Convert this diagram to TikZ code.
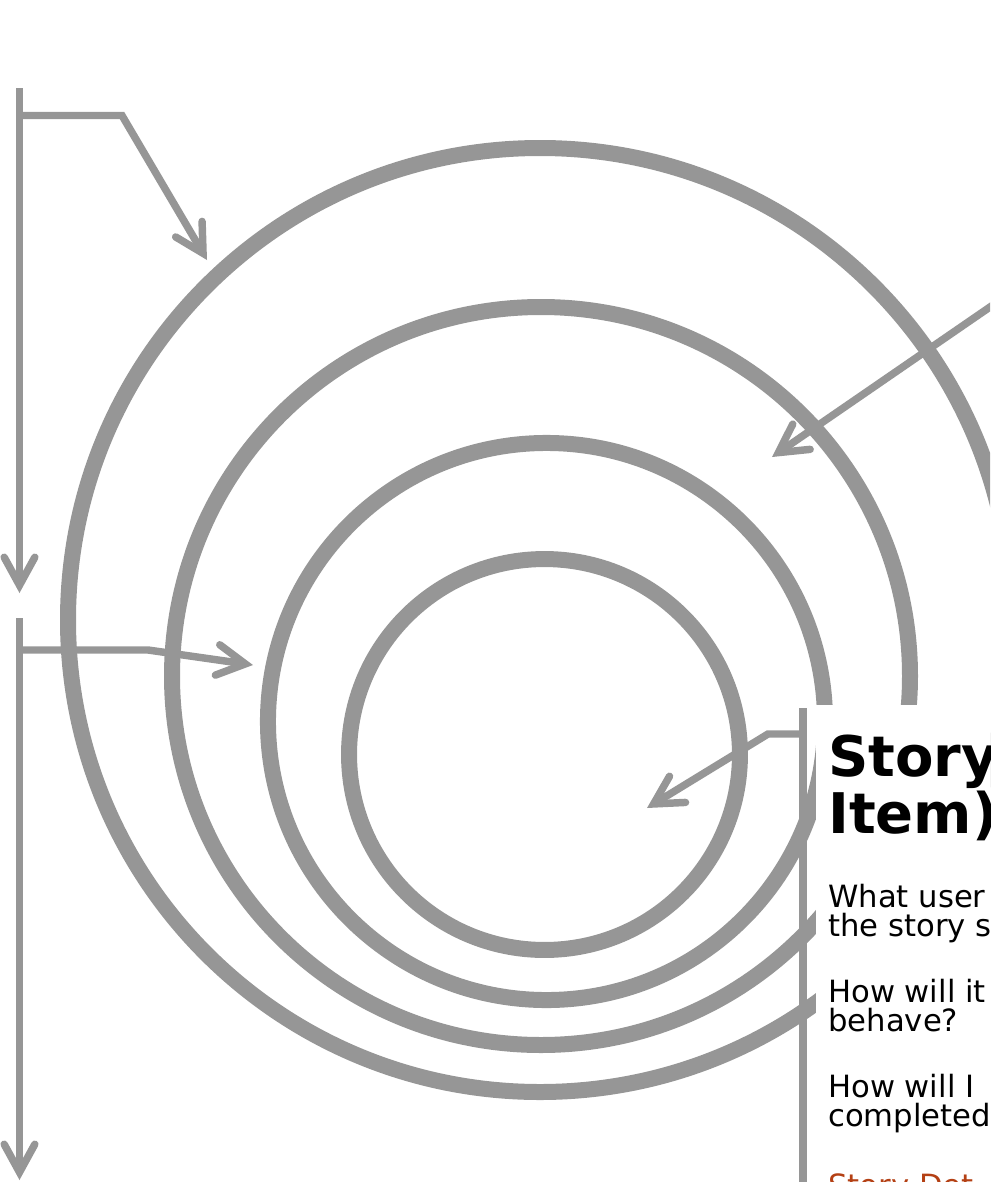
\documentclass[tikz,border=0pt]{standalone}
\usepackage{fontspec}
\setmainfont{DejaVu Sans}
\usetikzlibrary{arrows.meta}
\definecolor{ringgray}{RGB}{150,150,150}
\definecolor{rust}{RGB}{180,64,20}
\begin{document}
\begin{tikzpicture}[x=0.75pt,y=-0.75pt,
  ringline/.style={draw=ringgray,line width=12pt},
  conn/.style={draw=ringgray,line width=5.6pt,line join=miter},
  tipped/.style={conn,-{Straight Barb[length=21pt,width=23pt,line cap=round,line join=miter]}},
  titletext/.style={anchor=base west,inner sep=0pt,font=\fontsize{42pt}{43pt}\selectfont\bfseries},
  bodytext/.style={anchor=base west,inner sep=0pt,font=\fontsize{23pt}{23pt}\selectfont},
]
\useasboundingbox (0,0) rectangle (990,1182);
\clip (0,0) rectangle (990,1182);
% rings
\draw[ringline] (540,620) circle[radius=354pt];
\draw[ringline] (541,676) circle[radius=276.75pt];
\draw[ringline] (546.5,721.5) circle[radius=208.9pt];
\draw[ringline] (544.5,754.5) circle[radius=146.6pt];
% text panel
\fill[white] (816,705) rectangle (1000,1200);
\node[titletext] (h1) at (828,776) {Story};
\node[titletext] (h2) at (828,833) {Item)};
\node[bodytext] (p1) at (828,907) {What user};
\node[bodytext] (p2) at (828,936) {the story s};
\node[bodytext] (p3) at (828,1002) {How will it};
\node[bodytext] (p4) at (828,1031) {behave?};
\node[bodytext] (p5) at (828,1097) {How will I};
\node[bodytext] (p6) at (828,1126) {completed};
\node[bodytext,text=rust] (p7) at (828,1196) {Story Det};
% connector coordinates
\coordinate (a1s) at (19.5,88);
\coordinate (a1e) at (19.5,593);
\coordinate (b1s) at (19.5,115.5);
\coordinate (b1k) at (122,115.5);
\coordinate (b1e) at (207,260);
\coordinate (a2s) at (19.5,618);
\coordinate (a2e) at (19.5,1180);
\coordinate (b2s) at (19.5,650);
\coordinate (b2k) at (148,650);
\coordinate (b2e) at (253,665);
\coordinate (a3s) at (803,708);
\coordinate (a3e) at (803,1250);
\coordinate (b3s) at (803,734);
\coordinate (b3k) at (768,734);
\coordinate (b3e) at (647,808);
\coordinate (c4s) at (1040,272.6);
\coordinate (c4e) at (772,457);
% connectors
\draw[tipped] (a1s) -- (a1e);
\draw[tipped] (b1s) -- (b1k) -- (b1e);
\draw[tipped] (a2s) -- (a2e);
\draw[tipped] (b2s) -- (b2k) -- (b2e);
\draw[conn] (a3s) -- (a3e);
\draw[tipped] (b3s) -- (b3k) -- (b3e);
\draw[tipped] (c4s) -- (c4e);
\end{tikzpicture}
\end{document}
